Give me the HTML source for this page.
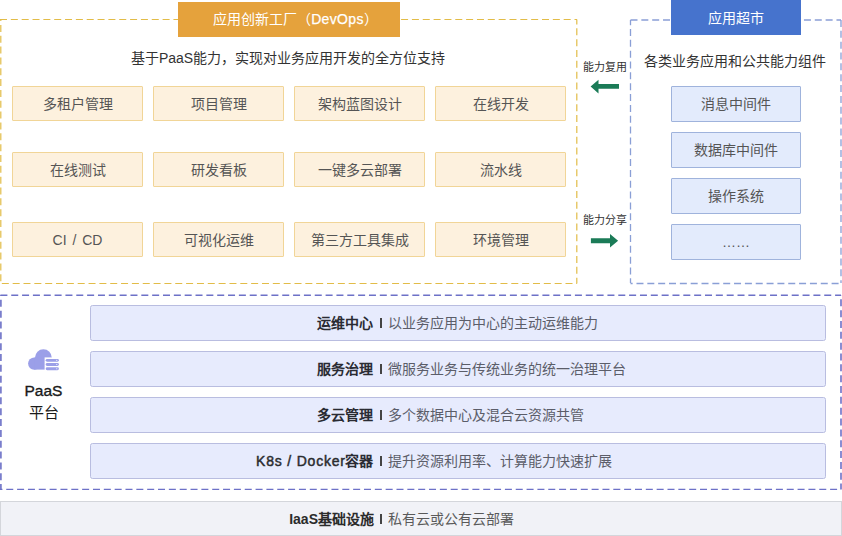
<!DOCTYPE html>
<html lang="zh-CN"><head><meta charset="utf-8">
<style>
html,body{margin:0;padding:0;background:#fff;}
body{width:842px;height:536px;position:relative;overflow:hidden;font-family:"Liberation Sans",sans-serif;line-height:1;}
.a{position:absolute;box-sizing:border-box;}
.t{position:absolute;white-space:nowrap;line-height:1;}
.hdr{background:#E5A23C;color:#fff;font-size:14px;font-weight:500;display:flex;align-items:center;justify-content:center;padding-left:13px;padding-bottom:1px;}
.yb{background:#FDF1DE;border:1px solid #F1D597;width:131px;height:35px;color:#555;font-size:14px;display:flex;align-items:center;justify-content:center;border-radius:1px;}
.bb{background:#E3EBFC;border:1px solid #9FB3DC;width:130px;height:36px;color:#555;font-size:14px;display:flex;align-items:center;justify-content:center;border-radius:1px;}
.row{background:#E7EBFD;border:1px solid #B9BDE0;left:90px;width:736px;height:36px;border-radius:2.5px;}
.row .l{position:absolute;right:452px;top:0;height:33px;display:flex;align-items:center;font-size:14px;font-weight:bold;color:#2a2b33;}
.row .s{position:absolute;left:288.5px;top:12px;width:2px;height:10px;background:#444;}
.row .r{position:absolute;left:297px;top:0;height:33px;display:flex;align-items:center;font-size:14px;color:#5b5d69;}
</style></head><body>
<svg class="a" style="left:0;top:0" width="842" height="536">
  <g fill="none" stroke="#E2BC48" stroke-width="1.2" stroke-dasharray="7 3.84">
    <path d="M0 19.5 H577"/>
    <path d="M576.8 19.5 V283.5" stroke-dashoffset="2"/>
    <path d="M577 283.5 H0" stroke-dashoffset="-4.5"/>
    <path d="M0.8 19.5 V283" stroke-dashoffset="-5.4"/>
  </g>
  <g fill="none" stroke="#8A9FD6" stroke-width="1.3" stroke-dasharray="7 3.84">
    <path d="M630.5 20 H841"/>
    <path d="M841 20 V283"/>
    <path d="M841 283.5 H630.5" stroke-dashoffset="-2.4"/>
    <path d="M630.5 20 V283" stroke-dashoffset="1.84"/>
  </g>
  <g fill="none" stroke="#6D71C7" stroke-width="1.6" stroke-dasharray="7 3.84">
    <path d="M0 295.2 H841" stroke-dashoffset="-0.4"/>
    <path d="M841 295.2 V489.5" stroke-dashoffset="-4.1"/>
    <path d="M841 489.4 H0" stroke-width="1.2" stroke-dashoffset="-3.9"/>
    <path d="M0.9 295.2 V489" stroke-dashoffset="-4.6"/>
  </g>
  <path d="M590.6 86.5 L598.5 79.7 L598.5 84 L619 84 L619 88.8 L598.5 88.8 L598.5 93.4 Z" fill="#1B7B57"/>
  <path d="M618.1 240.8 L610 234 L610 238.3 L590.9 238.3 L590.9 243.3 L610 243.3 L610 247.4 Z" fill="#1B7B57"/>
</svg>

<div class="a hdr" style="left:178px;top:2px;width:222px;height:35px;">应用创新工厂（<span style="letter-spacing:0.35px;-webkit-text-stroke:0.25px #fff">DevOps</span>）</div>
<div class="t" style="left:-0.5px;width:577px;text-align:center;top:51px;font-size:14px;color:#333;">基于PaaS能力，实现对业务应用开发的全方位支持</div>

<div class="a yb" style="left:12px;top:86px;">多租户管理</div>
<div class="a yb" style="left:153px;top:86px;">项目管理</div>
<div class="a yb" style="left:294px;top:86px;">架构蓝图设计</div>
<div class="a yb" style="left:435px;top:86px;">在线开发</div>
<div class="a yb" style="left:12px;top:152px;">在线测试</div>
<div class="a yb" style="left:153px;top:152px;">研发看板</div>
<div class="a yb" style="left:294px;top:152px;">一键多云部署</div>
<div class="a yb" style="left:435px;top:152px;">流水线</div>
<div class="a yb" style="left:12px;top:222px;word-spacing:2px;">CI / CD</div>
<div class="a yb" style="left:153px;top:222px;">可视化运维</div>
<div class="a yb" style="left:294px;top:222px;">第三方工具集成</div>
<div class="a yb" style="left:435px;top:222px;">环境管理</div>

<div class="a" style="left:671px;top:0;width:130px;height:35px;background:#4673CD;color:#fff;font-size:14px;font-weight:500;padding-top:1px;display:flex;align-items:center;justify-content:center;">应用超市</div>
<div class="t" style="left:629px;width:211px;text-align:center;top:53.5px;font-size:14px;color:#333;">各类业务应用和公共能力组件</div>
<div class="a bb" style="left:671px;top:86px;">消息中间件</div>
<div class="a bb" style="left:671px;top:132px;">数据库中间件</div>
<div class="a bb" style="left:671px;top:178px;">操作系统</div>
<div class="a bb" style="left:671px;top:224px;">……</div>

<div class="t" style="left:583px;top:61.5px;font-size:11px;color:#333;">能力复用</div>
<div class="t" style="left:583px;top:214.5px;font-size:11px;color:#333;">能力分享</div>

<div class="a row" style="top:305px;"><div class="l">运维中心</div><div class="s"></div><div class="r">以业务应用为中心的主动运维能力</div></div>
<div class="a row" style="top:351px;"><div class="l">服务治理</div><div class="s"></div><div class="r">微服务业务与传统业务的统一治理平台</div></div>
<div class="a row" style="top:397px;"><div class="l">多云管理</div><div class="s"></div><div class="r">多个数据中心及混合云资源共管</div></div>
<div class="a row" style="top:443px;"><div class="l"><span style="font-weight:normal;-webkit-text-stroke:0.45px #2b2b2b;letter-spacing:0.8px;word-spacing:0px;margin-right:-0.8px">K8s / Docker</span>容器</div><div class="s"></div><div class="r">提升资源利用率、计算能力快速扩展</div></div>

<svg class="a" style="left:0;top:0" width="842" height="536">
  <circle cx="43.4" cy="357.6" r="8.4" fill="#9B9FE8"/>
  <circle cx="34.2" cy="363.6" r="6.1" fill="#9B9FE8"/>
  <rect x="34.2" y="357.6" width="16" height="12" fill="#9B9FE8"/>
  <rect x="44.6" y="357.4" width="16" height="14" fill="#fff"/>
  <rect x="45.7" y="358.9" width="13.2" height="2.9" rx="1.45" fill="#9B9FE8"/>
  <rect x="45.7" y="363.1" width="13.2" height="2.9" rx="1.45" fill="#9B9FE8"/>
  <rect x="45.7" y="367.3" width="13.2" height="2.9" rx="1.45" fill="#9B9FE8"/>
  <circle cx="56.8" cy="360.35" r="0.55" fill="#fff"/><circle cx="56.8" cy="364.55" r="0.55" fill="#fff"/><circle cx="56.8" cy="368.75" r="0.55" fill="#fff"/>
</svg>
<div class="t" style="left:0;width:87px;text-align:center;top:383px;font-size:15.5px;color:#1a1a1a;-webkit-text-stroke:0.35px #1a1a1a;">PaaS</div>
<div class="t" style="left:0;width:87px;text-align:center;top:405px;font-size:15px;font-weight:500;color:#1a1a1a;">平台</div>

<div class="a" style="left:0;top:501px;width:842px;height:35px;background:#F1F2F7;border:1px solid #D4D6DB;">
  <div style="position:absolute;right:467px;top:0;height:33px;display:flex;align-items:center;font-size:14px;font-weight:bold;color:#2b2b2b;">IaaS基础设施</div>
  <div style="position:absolute;left:379px;top:12px;width:2px;height:10px;background:#444;"></div>
  <div style="position:absolute;left:387px;top:0;height:33px;display:flex;align-items:center;font-size:14px;color:#5a5a5a;">私有云或公有云部署</div>
</div>
</body></html>
